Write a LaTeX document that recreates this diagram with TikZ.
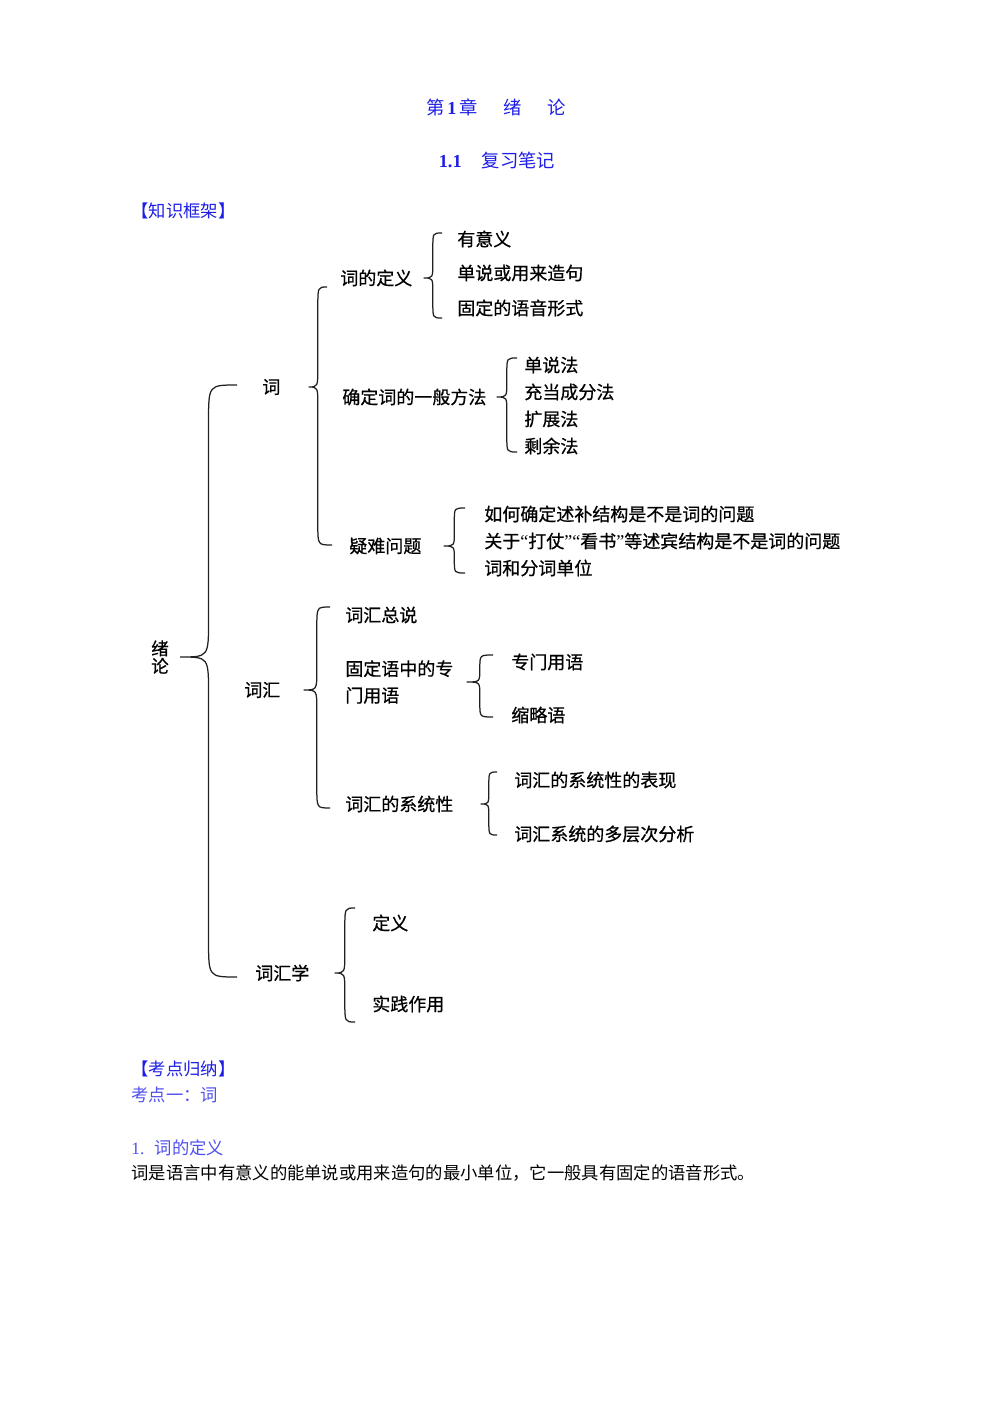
\documentclass[tikz,border=0pt]{standalone}
\usepackage{fontspec}
\setmainfont{Liberation Serif}
\newfontfamily\cjk{Noto Sans CJK SC}
\newfontfamily\cjkb[FakeBold=0.6]{Noto Sans CJK SC}
\usetikzlibrary{calc}
\definecolor{headC}{HTML}{1E1EE6}
\definecolor{pointC}{HTML}{5050F0}
\definecolor{lineC}{HTML}{202020}
\newcommand{\lat}[1]{{\rmfamily #1}}
% brace: parent node, gap to tip (px), top end, bottom end, curl
\newcommand{\brc}[5]{%
  \draw[curly] let \p1=($(#1.east)+(#2,0)$), \p2=#3, \p3=#4, \n1={(\x1+\x2)/2} in
    (\p2) .. controls (\n1,\y2) .. (\n1,\y2-#5) -- (\n1,\y1+#5)
    .. controls (\n1,\y1) .. (\p1) .. controls (\n1,\y1) .. (\n1,\y1-#5)
    -- (\n1,\y3+#5) .. controls (\n1,\y3) .. (\p3);}
\tikzset{
  item/.style={anchor=west, inner sep=0pt, align=left,
               font=\cjkb\fontsize{10.8}{16}\selectfont},
  head/.style={anchor=west, inner sep=0pt, text=headC,
               font=\cjk\fontsize{10.4}{12}\selectfont},
  title/.style={inner sep=0pt, text=headC, font=\cjk\fontsize{11}{13}\selectfont},
  curly/.style={draw=lineC, line width=0.75pt},
}
\begin{document}
\begin{tikzpicture}[x=0.6pt, y=-0.6pt]
\fill[white] (0,0) rectangle (992,1403);
\useasboundingbox (0,0) rectangle (992,1403);
% headings
\node[title] (chap) at (496,107) {第\,\lat{\bfseries 1}\,章\hspace{1.4em}绪\hspace{1.4em}论};
\node[title] (sec)  at (497,160) {\lat{\bfseries 1.1}\hspace{1.1em}复习笔记};
\node[head] (kjk) at (131,211) {【知识框架】};
% framework
\node[item, anchor=center, font=\cjkb\fontsize{10.5}{10.5}\selectfont] (xl) at (160,657) {绪\\论};
\node[item] (ci)  at (262,387) {词};
\node[item] (chv) at (244,690) {词汇};
\node[item] (cxx) at (255,973) {词汇学};
\node[item] (dingyi) at (340,278) {词的定义};
\node[item] (fangfa) at (342,397) {确定词的一般方法};
\node[item] (yinan)  at (349,546) {疑难问题};
\node[item] (a1) at (457,239) {有意义};
\node[item] (a2) at (457,273) {单说或用来造句};
\node[item] (a3) at (457,308) {固定的语音形式};
\node[item] (b1) at (524,365) {单说法};
\node[item] (b2) at (524,392) {充当成分法};
\node[item] (b3) at (524,419) {扩展法};
\node[item] (b4) at (524,446) {剩余法};
\node[item] (c1) at (484,514) {如何确定述补结构是不是词的问题};
\node[item] (c2) at (484,541) {关于\lat{“}打仗\lat{”}\lat{“}看书\lat{”}等述宾结构是不是词的问题};
\node[item] (c3) at (484,568) {词和分词单位};
\node[item] (zongshuo) at (345,615) {词汇总说};
\node[item] (zhuanmen) at (345,682) {固定语中的专\\门用语};
\node[item] (xitong)   at (345,804) {词汇的系统性};
\node[item] (d1) at (511,662) {专门用语};
\node[item] (d2) at (511,715) {缩略语};
\node[item] (e1) at (514,780) {词汇的系统性的表现};
\node[item] (e2) at (514,834) {词汇系统的多层次分析};
\node[item] (f1) at (372,923) {定义};
\node[item] (f2) at (372,1004) {实践作用};
\brc{xl}{11}{(237,385)}{(237,977)}{22pt}
\brc{ci}{28}{(327,287)}{(332,545)}{12pt}
\brc{dingyi}{11}{(442,233)}{(442,318)}{9pt}
\brc{fangfa}{10}{(517,358)}{(517,452)}{9pt}
\brc{yinan}{22}{(465,508)}{(465,573)}{8pt}
\brc{chv}{23}{(330,607)}{(330,808)}{12pt}
\brc{zhuanmen}{13}{(493,655)}{(493,717)}{8pt}
\brc{xitong}{27}{(497,772)}{(497,835)}{8pt}
\brc{cxx}{25}{(355,908)}{(355,1022)}{12pt}
% key points
\node[head] (kdgn) at (131,1069) {【考点归纳】};
\node[head, text=pointC] (kd1) at (131,1095) {考点一：词};
\node[head, text=pointC] (def1) at (131,1148) {\lat{1.}\hspace{0.6em}词的定义};
\node[head, text=black] (body) at (131,1173) {词是语言中有意义的能单说或用来造句的最小单位，它一般具有固定的语音形式。};
\end{tikzpicture}
\end{document}
